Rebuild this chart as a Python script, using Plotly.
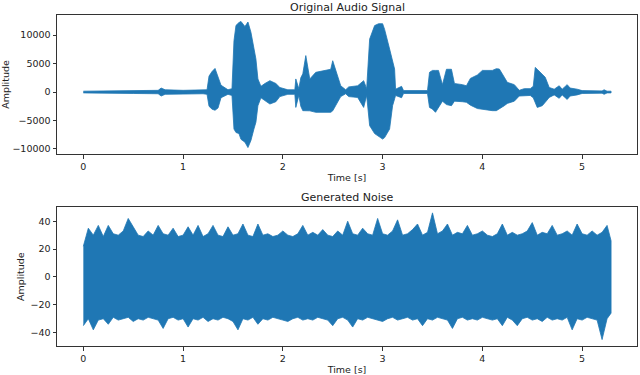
import plotly.graph_objects as go

# envelope of the original audio signal (time in s, upper / lower amplitude)
audio_t = [0.00, 0.30, 0.50, 0.75, 0.78, 0.82, 1.00, 1.20, 1.24, 1.26, 1.29, 1.32, 1.35, 1.38, 1.45,
           1.49, 1.51, 1.53, 1.56, 1.58, 1.62, 1.65, 1.68, 1.71, 1.73, 1.75, 1.78, 1.82, 1.87, 1.93,
           1.97, 2.05, 2.12, 2.13, 2.16, 2.18, 2.20, 2.23, 2.27, 2.33, 2.42, 2.48, 2.50, 2.53, 2.55,
           2.58, 2.63, 2.66, 2.75, 2.81, 2.84, 2.87, 2.92, 2.96, 3.00, 3.02, 3.07, 3.10, 3.12, 3.13,
           3.19, 3.21, 3.45, 3.47, 3.50, 3.53, 3.56, 3.60, 3.64, 3.69, 3.72, 3.80, 3.84, 3.88, 3.95,
           4.00, 4.10, 4.14, 4.17, 4.22, 4.25, 4.32, 4.37, 4.42, 4.48, 4.51, 4.53, 4.55, 4.60, 4.63,
           4.67, 4.72, 4.77, 4.80, 4.85, 4.88, 4.95, 5.00, 5.20, 5.22, 5.25, 5.29]
audio_hi = [150, 200, 250, 300, 700, 400, 300, 300, 400, 2800, 3600, 4150, 2500, 1200, 400,
            600, 9000, 11700, 12200, 12400, 11500, 12300, 10500, 8000, 5800, 2300, 1000, 1500, 2000, 1500,
            800, 400, 400, 2300, 600, 2500, 3200, 6400, 2300, 3460, 3800, 4000, 5500, 3800, 2500,
            1100, 400, 900, 1100, 2000, 600, 9300, 11670, 12000, 12000, 11000, 7560, 5500, 4040, 500,
            1000, 250, 250, 3460, 3800, 3800, 3800, 1300, 4000, 4000, 1500, 1300, 1100, 2400, 3000,
            3800, 3800, 4100, 4040, 2600, 1700, 1300, 300, 600, 600, 1000, 4330, 4000, 3160, 2600,
            800, 500, 1100, 500, 1300, 700, 500, 250, 200, 400, 150, 150]
audio_lo = [-150, -200, -250, -300, -700, -400, -300, -300, -400, -2500, -3000, -3200, -2800, -1000, -400,
            -600, -6500, -7100, -7300, -8300, -8800, -9750, -8500, -6500, -5300, -2400, -1000, -1500, -2100, -1700,
            -800, -400, -400, -2700, -600, -2500, -3270, -3300, -3300, -3560, -3560, -3560, -3300, -2500, -1800,
            -800, -300, -800, -950, -2700, -600, -5900, -7300, -7800, -8260, -8000, -6500, -2400, -1200, -600,
            -1000, -250, -250, -2700, -3000, -3560, -2800, -1600, -2200, -2400, -1600, -1700, -1800, -2300, -2900,
            -3000, -3270, -3270, -2900, -2400, -2000, -1600, -700, -600, -600, -1000, -1900, -2700, -2400, -1800,
            -950, -500, -1100, -500, -1300, -700, -500, -250, -200, -400, -150, -150]

# envelope of the generated noise
noise_t = [0.00, 0.05, 0.10, 0.15, 0.20, 0.25, 0.30, 0.35, 0.40, 0.45, 0.50, 0.55, 0.60, 0.65, 0.70,
           0.75, 0.80, 0.85, 0.90, 0.95, 1.00, 1.05, 1.10, 1.15, 1.20, 1.25, 1.30, 1.35, 1.40, 1.45,
           1.50, 1.55, 1.60, 1.65, 1.70, 1.75, 1.80, 1.85, 1.90, 1.95, 2.00, 2.05, 2.10, 2.15, 2.20,
           2.25, 2.30, 2.35, 2.40, 2.45, 2.50, 2.55, 2.60, 2.65, 2.70, 2.75, 2.80, 2.85, 2.90, 2.95,
           3.00, 3.05, 3.10, 3.15, 3.20, 3.25, 3.30, 3.35, 3.40, 3.45, 3.50, 3.55, 3.60, 3.65, 3.70,
           3.75, 3.80, 3.85, 3.90, 3.95, 4.00, 4.05, 4.10, 4.15, 4.20, 4.25, 4.30, 4.35, 4.40, 4.45,
           4.50, 4.55, 4.60, 4.65, 4.70, 4.75, 4.80, 4.85, 4.90, 4.95, 5.00, 5.05, 5.10, 5.15, 5.20,
           5.25, 5.29]
noise_hi = [22, 35, 30, 37, 29, 37, 31, 30, 33, 42, 36, 30, 29, 33, 30,
            37, 31, 30, 35, 29, 30, 36, 30, 37, 29, 31, 37, 30, 29, 36,
            30, 31, 38, 30, 29, 38, 30, 31, 29, 30, 33, 30, 29, 31, 37,
            30, 32, 30, 34, 30, 29, 33, 30, 40, 31, 30, 35, 31, 30, 42,
            31, 30, 33, 41, 30, 31, 34, 38, 30, 32, 46, 31, 33, 38, 30,
            32, 31, 37, 30, 31, 33, 30, 29, 31, 38, 30, 32, 30, 31, 33,
            39, 30, 32, 31, 37, 30, 31, 33, 30, 38, 31, 30, 33, 30, 32,
            37, 26]
noise_lo = [-35, -30, -38, -31, -30, -34, -29, -31, -30, -29, -32, -30, -31, -29, -30,
            -31, -37, -30, -29, -31, -30, -36, -30, -31, -29, -32, -30, -31, -29, -30,
            -32, -38, -30, -31, -29, -34, -30, -31, -29, -30, -31, -32, -30, -29, -31,
            -30, -31, -29, -30, -31, -35, -30, -29, -31, -36, -30, -31, -29, -30, -31,
            -32, -30, -29, -31, -30, -29, -31, -30, -35, -30, -31, -29, -30, -31, -37,
            -30, -29, -31, -30, -31, -29, -30, -31, -30, -35, -29, -31, -35, -30, -29,
            -31, -30, -32, -29, -31, -30, -31, -29, -38, -30, -31, -29, -30, -31, -45,
            -30, -26]

blue = "#1f77b4"
font = "DejaVu Sans"


def envelope_trace(t, hi, lo, xa, ya):
    return go.Scatter(
        x=t + t[::-1],
        y=hi + lo[::-1],
        fill="toself",
        fillcolor=blue,
        mode="lines",
        line=dict(color=blue, width=0.8),
        xaxis=xa,
        yaxis=ya,
        hoverinfo="skip",
        showlegend=False,
    )


fig = go.Figure()
fig.add_trace(envelope_trace(audio_t, audio_hi, audio_lo, "x", "y"))
fig.add_trace(envelope_trace(noise_t, noise_hi, noise_lo, "x2", "y2"))

axis_common = dict(
    showline=True,
    linecolor="#333",
    linewidth=1,
    mirror=True,
    ticks="outside",
    ticklen=3.5,
    tickcolor="#333",
    showgrid=False,
    zeroline=False,
    automargin=False,
    tickfont=dict(family=font, size=9.5, color="#222"),
)

x_dom = [57 / 640, 637 / 640]

fig.update_layout(
    width=640,
    height=375,
    margin=dict(l=0, r=0, t=0, b=0),
    plot_bgcolor="white",
    paper_bgcolor="white",
    font=dict(family=font, size=10, color="#222"),
    xaxis=dict(
        domain=x_dom, anchor="y", range=[-0.264, 5.55],
        tickvals=[0, 1, 2, 3, 4, 5],
        title=dict(text="Time [s]", font=dict(family=font, size=9.5), standoff=3),
        **axis_common,
    ),
    yaxis=dict(
        domain=[1 - 154 / 375, 1 - 15 / 375], anchor="x", range=[-10880, 13530],
        tickvals=[-10000, -5000, 0, 5000, 10000], tickformat="d",
        title=dict(text="Amplitude", font=dict(family=font, size=9.5), standoff=4),
        **axis_common,
    ),
    xaxis2=dict(
        domain=x_dom, anchor="y2", range=[-0.264, 5.55],
        tickvals=[0, 1, 2, 3, 4, 5],
        title=dict(text="Time [s]", font=dict(family=font, size=9.5), standoff=3),
        **axis_common,
    ),
    yaxis2=dict(
        domain=[1 - 346 / 375, 1 - 207.3 / 375], anchor="x2", range=[-49.6, 50.0],
        tickvals=[-40, -20, 0, 20, 40],
        title=dict(text="Amplitude", font=dict(family=font, size=9.5), standoff=4),
        **axis_common,
    ),
    annotations=[
        dict(text="Original Audio Signal", x=0.5 * (x_dom[0] + x_dom[1]), y=1 - 7.5 / 375,
             xref="paper", yref="paper", showarrow=False, yanchor="middle",
             font=dict(family=font, size=11, color="#222")),
        dict(text="Generated Noise", x=0.5 * (x_dom[0] + x_dom[1]), y=1 - 197 / 375,
             xref="paper", yref="paper", showarrow=False, yanchor="middle",
             font=dict(family=font, size=11, color="#222")),
    ],
)

# the page body has a default 8px margin; drop it so the figure sits at 0,0
fig.write_html(
    "out.html",
    config={"displayModeBar": False},
    post_script="document.body.style.margin = '0';",
)
